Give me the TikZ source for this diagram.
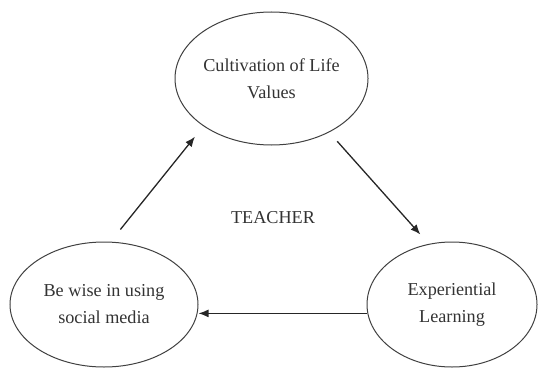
\documentclass[tikz,border=0pt]{standalone}
\usepackage{fontspec}
\setmainfont{Liberation Serif}
\usetikzlibrary{arrows.meta, shapes.geometric}

\begin{document}
\begin{tikzpicture}[
  x=0.5pt, y=-0.5pt,
  font=\fontsize{9.1}{13.5}\selectfont,
  >={Latex[length=5pt,width=4pt]},
  ell/.style={ellipse, draw=black!75, line width=0.5pt, inner sep=0pt,
              minimum width=#1, align=center, text=black!80},
  flow/.style={->, line width=0.65pt, draw=black!85},
]
\useasboundingbox (0,0) rectangle (539,369);

% ================= NODES (explicit coords, px) =================
\node[ell=93.5pt, minimum height=66.5pt] (values) at (271.5,78.5)  {Cultivation of Life\\Values};
\node[ell=94pt,   minimum height=62.5pt] (social) at (104,304.5)   {Be wise in using\\social media};
\node[ell=85pt,   minimum height=62.5pt] (learn)  at (452,304.5)   {Experiential\\Learning};

\node[text=black!80] (teacher) at (273,218) {TEACHER};

% ================= EDGES =================
\draw[flow, shorten <=7.8pt, shorten >=6.75pt] (social.84.3) -- (values.215.5);
\draw[flow, shorten <=6pt, shorten >=6.3pt] (values.317.5) -- (learn.111.6);
\draw[flow] (learn.186) -- (learn.186 -| social.east);

\end{tikzpicture}
\end{document}
